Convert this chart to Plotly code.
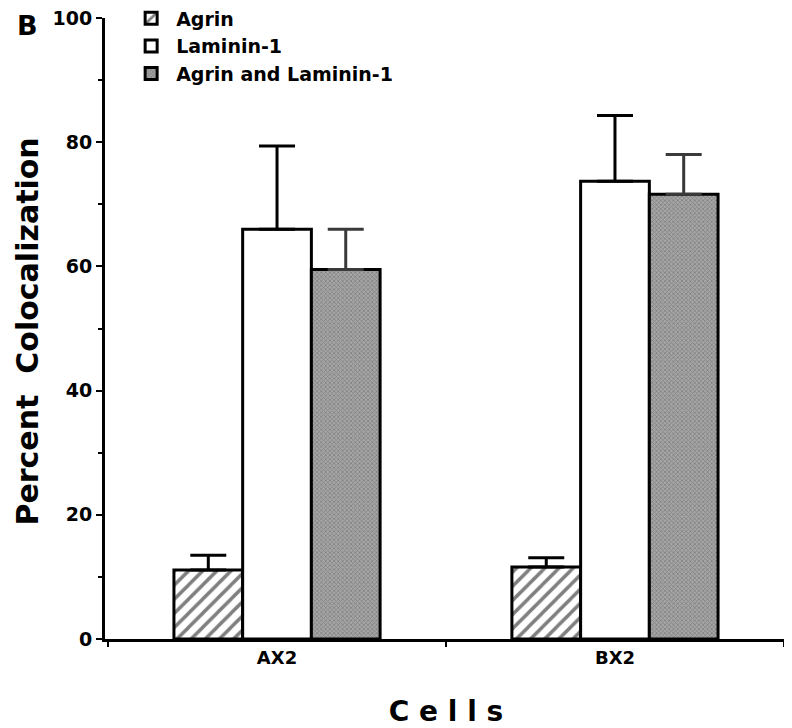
import plotly.graph_objects as go

cells = ["AX2", "BX2"]
series = ["Agrin", "Laminin-1", "Agrin and Laminin-1"]
values = {
    "Agrin": [11.1, 11.6],
    "Laminin-1": [66.0, 73.7],
    "Agrin and Laminin-1": [59.5, 71.6],
}
errors = {
    "Agrin": [2.4, 1.5],
    "Laminin-1": [13.4, 10.6],
    "Agrin and Laminin-1": [6.5, 6.4],
}
y_ticks = [0, 20, 40, 60, 80, 100]
y_minor = [10, 30, 50, 70, 90]

styles = {
    "Agrin": dict(color="white", pattern=dict(shape="/", fgcolor="black", bgcolor="white", size=10, solidity=0.35), err="black"),
    "Laminin-1": dict(color="white", pattern=None, err="black"),
    "Agrin and Laminin-1": dict(color="#8a8a8a", pattern=dict(shape="x", fgcolor="#5a5a5a", bgcolor="#a6a6a6", size=3, solidity=0.45), err="#3a3a3a"),
}

FONT = "DejaVu Sans, Liberation Sans, Arial, sans-serif"

fig = go.Figure()
for s in series:
    st = styles[s]
    marker = dict(color=st["color"], line=dict(color="black", width=3))
    if st["pattern"]:
        marker["pattern"] = st["pattern"]
    fig.add_trace(go.Bar(
        name=s, x=cells, y=values[s], marker=marker,
        error_y=dict(type="data", array=errors[s], arrayminus=[0] * len(cells), symmetric=False,
                     color=st["err"], thickness=3, width=18),
    ))

fig.update_layout(
    width=784, height=720,
    margin=dict(l=97, r=5, t=10, b=89, autoexpand=False),
    paper_bgcolor="white", plot_bgcolor="white",
    barmode="group", bargap=0.39, bargroupgap=0,
    font=dict(family=FONT, color="black", size=18, weight="bold"),
    showlegend=True,
    legend=dict(x=0.031, y=1.03, xref="paper", yref="paper", xanchor="left", yanchor="top",
                bgcolor="rgba(0,0,0,0)", font=dict(size=19, family=FONT, weight="bold"),
                tracegroupgap=0, itemwidth=40),
    xaxis=dict(range=[-0.509, 1.509], showline=True, linecolor="black", linewidth=3, automargin=False,
               ticks="outside", tickson="boundaries", ticklen=5, tickwidth=2, tickcolor="black",
               tickfont=dict(size=18, family=FONT, weight="bold"), showgrid=False,
               title=dict(text="C e l l s", font=dict(size=28, family=FONT, weight="bold"), standoff=47)),
    yaxis=dict(range=[0, 100], tickvals=y_ticks, showline=True, linecolor="black", linewidth=3, automargin=False,
               ticks="outside", ticklen=6, tickwidth=2, tickcolor="black", showgrid=False, zeroline=False,
               ticklabeloverflow="allow",
               tickfont=dict(size=19, family=FONT, weight="bold"),
               minor=dict(tickvals=y_minor, ticks="outside", ticklen=4, tickwidth=2, tickcolor="black")),
)

fig.add_annotation(text="Percent  Colocalization", textangle=-90, x=-0.113, y=0.495,
                   xref="paper", yref="paper", showarrow=False, xanchor="center", yanchor="middle",
                   font=dict(size=30, family=FONT, weight="bold"))
fig.add_annotation(text="B", x=-0.132, y=1.016, xref="paper", yref="paper", showarrow=False,
                   xanchor="left", yanchor="top", font=dict(size=27, family=FONT, weight="bold"))

fig.write_html("out.html")
